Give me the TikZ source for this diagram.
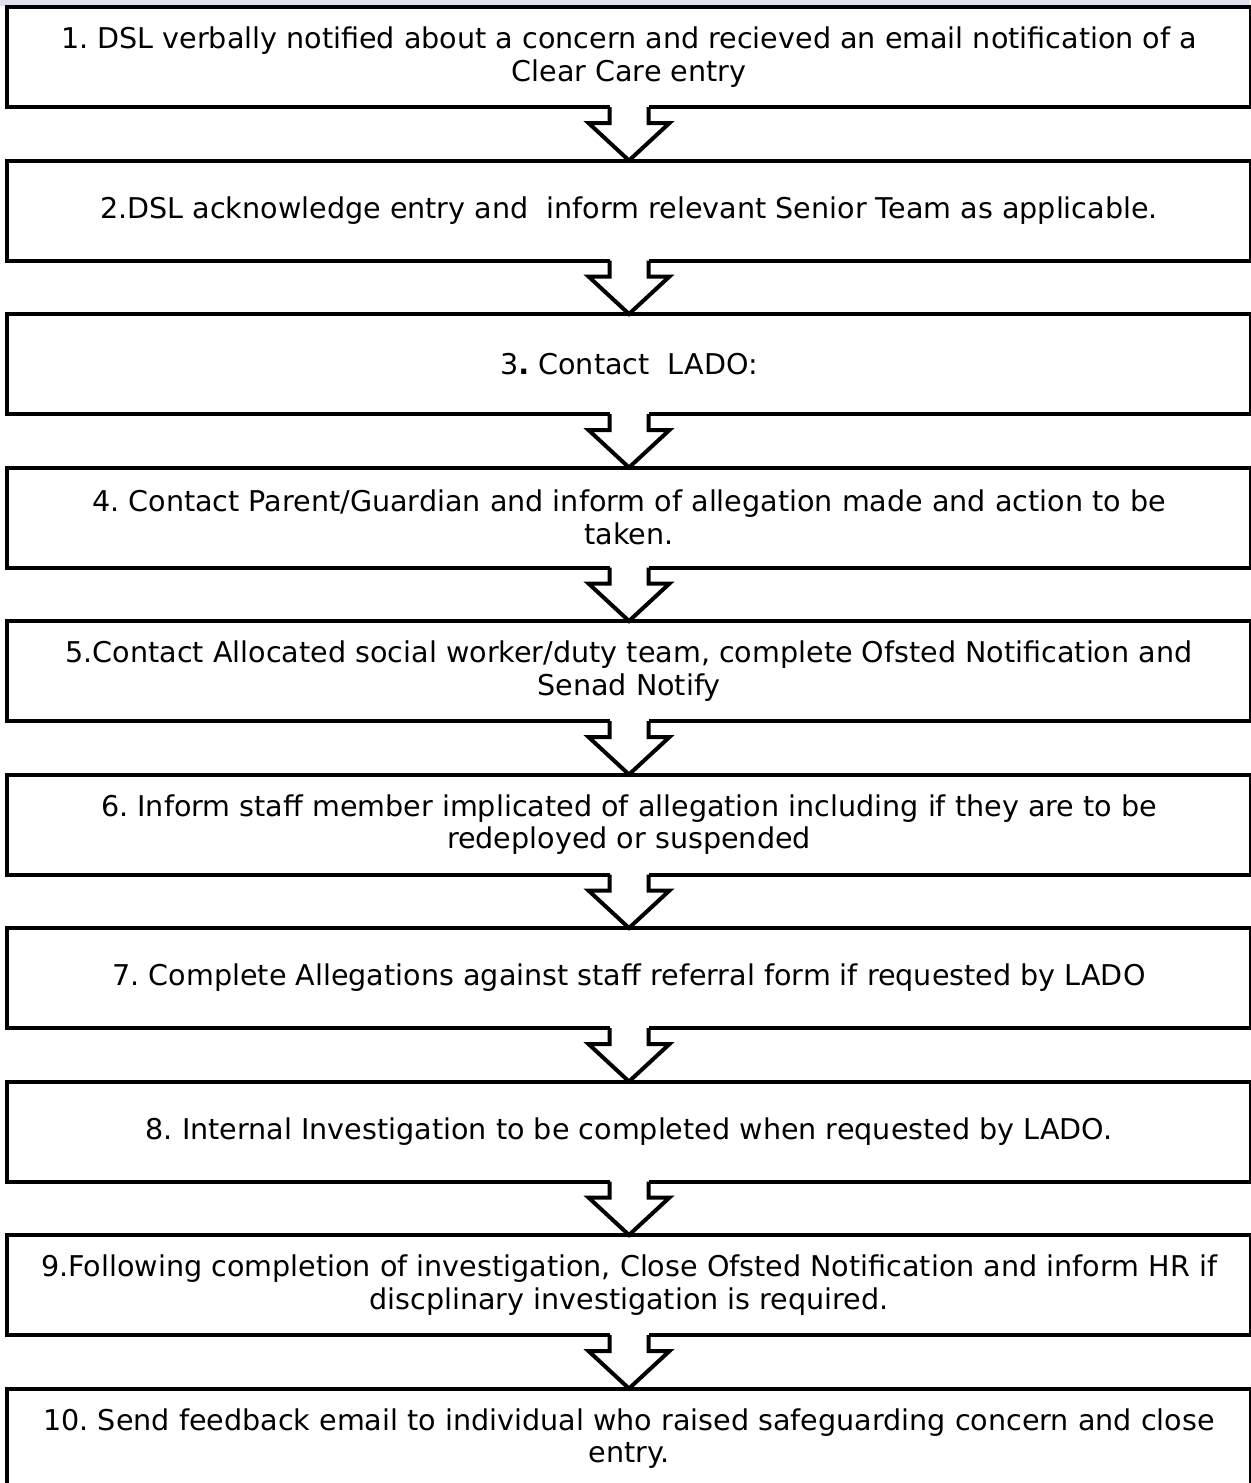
\documentclass[tikz,border=0pt]{standalone}
\usepackage{fontspec}
\setmainfont{DejaVu Sans}
\usetikzlibrary{calc}
\frenchspacing
\definecolor{lav}{RGB}{228,223,236}
\tikzset{
  stepbox/.style={draw=black, line width=2pt, rectangle, fill=white,
    minimum width=622pt, minimum height=50pt, inner sep=0pt, outer sep=0pt,
    align=center, font=\fontsize{14.3}{16.3}\selectfont},
  blockarrow/.style={draw=black, line width=2pt, line join=miter, fill=white}
}
\begin{document}
\begin{tikzpicture}[x=0.5pt,y=-0.5pt]
\useasboundingbox (0,0) rectangle (1250,1483);
\fill[lav] (0,0) rectangle (1250,6);
\node[stepbox] (b1) at (629,57) {1. DSL verbally notified about a concern and recieved an email notification of a\\Clear Care entry};
\node[stepbox] (b2) at (629,210.5) {2.DSL acknowledge entry and\ \ inform relevant Senior Team as applicable.};
\node[stepbox] (b3) at (629,364) {3\textbf{.} Contact\ \ LADO:};
\node[stepbox] (b4) at (629,517.5) {4. Contact Parent/Guardian and inform of allegation made and action to be\\taken.};
\node[stepbox] (b5) at (629,671) {5.Contact Allocated social worker/duty team, complete Ofsted Notification and\\Senad Notify};
\node[stepbox] (b6) at (629,824.5) {6. Inform staff member implicated of allegation including if they are to be\\redeployed or suspended};
\node[stepbox] (b7) at (629,978) {7. Complete Allegations against staff referral form if requested by LADO};
\node[stepbox] (b8) at (629,1131.5) {8. Internal Investigation to be completed when requested by LADO.};
\node[stepbox] (b9) at (629,1285) {9.Following completion of investigation, Close Ofsted Notification and inform HR if\\discplinary investigation is required.};
\node[stepbox] (b10) at (629,1438.5) {10. Send feedback email to individual who raised safeguarding concern and close\\entry.};
\foreach \a/\b in {b1/b2,b2/b3,b3/b4,b4/b5,b5/b6,b6/b7,b7/b8,b8/b9,b9/b10}{
  \fill[white] ($(\a.south)+(-19.5,-4)$) rectangle ($(\a.south)+(19.5,16)$);
  \draw[blockarrow] ($(\a.south)+(-19.5,0)$) -- ++(0,16) -- ++(-21,0) -- (\b.north)
     -- ($(\a.south)+(40.5,16)$) -- ++(-21,0) -- ++(0,-16);
}
\end{tikzpicture}
\end{document}
